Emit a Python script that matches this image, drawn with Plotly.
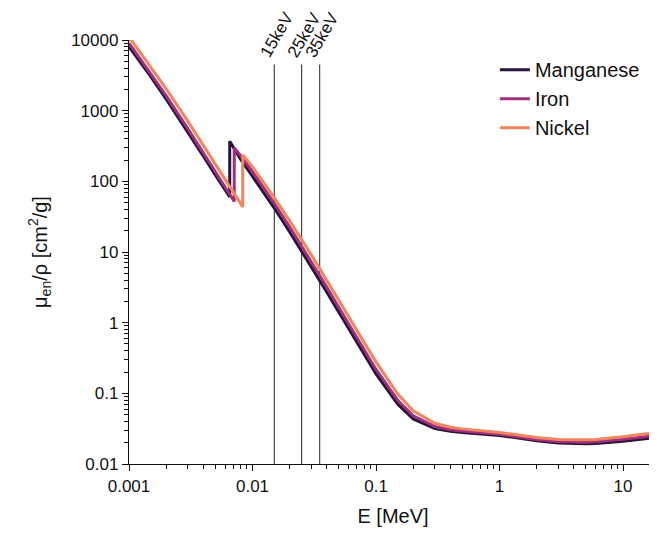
import numpy as np
import plotly.graph_objects as go

# Photon energies (MeV), including absorption-edge duplicates
mn_energy = [0.001, 0.0015, 0.002, 0.003, 0.004, 0.005, 0.006, 0.006539, 0.006539,
             0.008, 0.01, 0.015, 0.02, 0.03, 0.04, 0.05, 0.06, 0.08, 0.1, 0.15, 0.2,
             0.3, 0.4, 0.5, 0.6, 0.8, 1.0, 1.25, 1.5, 2.0, 3.0, 4.0, 5.0, 6.0, 8.0,
             10.0, 15.0, 20.0]
mn_mu_en = [8063, 3036, 1450, 496.9, 226.9, 122.8, 74.4, 60.0, 370.0,
            205.0, 117.2, 41.9, 19.2, 6.16, 2.69, 1.40, 0.82, 0.354, 0.189, 0.0702, 0.0435,
            0.0317, 0.0290, 0.0280, 0.0273, 0.0263, 0.0252, 0.0240, 0.0229, 0.0214, 0.0199,
            0.0194, 0.0193, 0.0195, 0.0202, 0.0210, 0.0227, 0.0241]

fe_energy = [0.001, 0.0015, 0.002, 0.003, 0.004, 0.005, 0.006, 0.007112, 0.007112,
             0.008, 0.01, 0.015, 0.02, 0.03, 0.04, 0.05, 0.06, 0.08, 0.1, 0.15, 0.2,
             0.3, 0.4, 0.5, 0.6, 0.8, 1.0, 1.25, 1.5, 2.0, 3.0, 4.0, 5.0, 6.0, 8.0,
             10.0, 15.0, 20.0]
fe_mu_en = [9052, 3388, 1620, 553.9, 254.0, 137.6, 83.17, 51.84, 297.8,
            231.9, 136.9, 48.96, 22.60, 7.251, 3.155, 1.638, 0.9555, 0.4104, 0.2177, 0.07961, 0.0482,
            0.03388, 0.03053, 0.02930, 0.02855, 0.02742, 0.02628, 0.02497, 0.02386, 0.02227, 0.02082,
            0.02040, 0.02038, 0.02064, 0.02145, 0.02236, 0.02431, 0.02585]

ni_energy = [0.001, 0.001008, 0.001008, 0.0015, 0.002, 0.003, 0.004, 0.005, 0.006, 0.008,
             0.008333, 0.008333,
             0.01, 0.015, 0.02, 0.03, 0.04, 0.05, 0.06, 0.08, 0.1, 0.15, 0.2,
             0.3, 0.4, 0.5, 0.6, 0.8, 1.0, 1.25, 1.5, 2.0, 3.0, 4.0, 5.0, 6.0, 8.0,
             10.0, 15.0, 20.0]
ni_mu_en = [9829, 9700, 10900, 4222, 2041, 705.0, 324.8, 176.7, 107.1, 48.1,
            43.5, 236.9,
            160.2, 58.9, 27.6, 9.04, 3.99, 2.08, 1.22, 0.526, 0.279, 0.0978, 0.0567,
            0.0377, 0.0331, 0.0314, 0.0305, 0.0292, 0.0279, 0.0265, 0.0253, 0.0237, 0.0222,
            0.0219, 0.0220, 0.0223, 0.0233, 0.0243, 0.0266, 0.0284]

series_names = ["Manganese", "Iron", "Nickel"]
series_colors = ["#28133a", "#a0307c", "#f2845e"]

# Reference energies (MeV) marked by vertical lines
marker_energies = [0.015, 0.025, 0.035]
marker_labels = ["15keV", "25keV", "35keV"]
marker_yspan = [0.01, 4500]

x_tickvals = [0.001, 0.01, 0.1, 1, 10]
x_ticktext = ["0.001", "0.01", "0.1", "1", "10"]
y_tickvals = [0.01, 0.1, 1, 10, 100, 1000, 10000]
y_ticktext = ["0.01", "0.1", "1", "10", "100", "1000", "10000"]

FONT = "Liberation Sans, Arial, sans-serif"

fig = go.Figure()

for e in marker_energies:
    fig.add_trace(go.Scatter(x=[e, e], y=marker_yspan, mode="lines",
                             line=dict(color="#222222", width=1),
                             showlegend=False, hoverinfo="skip"))

for name, xs, ys, col in zip(series_names, [mn_energy, fe_energy, ni_energy],
                             [mn_mu_en, fe_mu_en, ni_mu_en], series_colors):
    fig.add_trace(go.Scatter(x=xs, y=ys, mode="lines", name=name,
                             line=dict(color=col, width=3)))

for e, lab in zip(marker_energies, marker_labels):
    fig.add_annotation(x=np.log10(e), y=1.012, xref="x", yref="paper",
                       text=lab, textangle=-60, showarrow=False,
                       xanchor="center", yanchor="middle", xshift=3,
                       font=dict(family=FONT, size=17, color="#111111"))

def minor_vals(lo, hi):
    return [m * 10.0 ** k for k in range(lo, hi) for m in range(2, 10)]

fig.update_layout(
    width=649, height=530,
    margin=dict(l=121, r=0, t=32, b=74),
    plot_bgcolor="white", paper_bgcolor="white",
    font=dict(family=FONT, size=17, color="#111111"),
    showlegend=True,
    legend=dict(x=0.693, y=0.976, xanchor="left", yanchor="top",
                font=dict(family=FONT, size=20, color="#111111"),
                bgcolor="rgba(0,0,0,0)", tracegroupgap=0),
    xaxis=dict(type="log", range=[-3, 1.275],
               tickmode="array", tickvals=x_tickvals, ticktext=x_ticktext,
               ticks="outside", ticklen=6, tickwidth=1.3, tickcolor="#111111",
               showline=True, linecolor="#111111", linewidth=1.3,
               showgrid=False, zeroline=False,
               minor=dict(tickmode="array", tickvals=minor_vals(-3, 2),
                          ticks="outside", ticklen=3.5, tickwidth=1.2,
                          tickcolor="#111111", showgrid=False),
               title=dict(text="E [MeV]", font=dict(family=FONT, size=20),
                          standoff=14),
               automargin=False),
    yaxis=dict(type="log", range=[-2, 4],
               tickmode="array", tickvals=y_tickvals, ticktext=y_ticktext,
               ticks="outside", ticklen=6, tickwidth=1.3, tickcolor="#111111",
               showline=True, linecolor="#111111", linewidth=1.3,
               showgrid=False, zeroline=False,
               minor=dict(tickmode="array", tickvals=minor_vals(-2, 4),
                          ticks="outside", ticklen=3.5, tickwidth=1.2,
                          tickcolor="#111111", showgrid=False),
               title=dict(text="μ<sub>en</sub>/ρ [cm<sup>2</sup>/g]",
                          font=dict(family=FONT, size=20), standoff=18),
               automargin=False),
)

fig.write_html("out.html")
